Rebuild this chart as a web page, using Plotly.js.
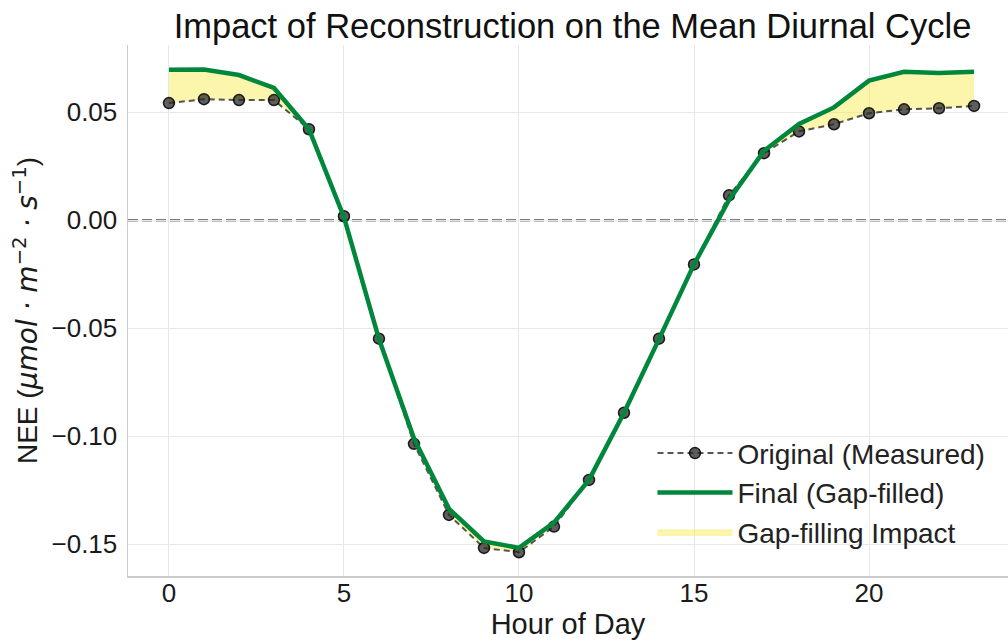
<!DOCTYPE html>
<html>
<head>
<meta charset="utf-8">
<script src="https://cdn.plot.ly/plotly-3.0.1.min.js"></script>
<style>html,body{margin:0;padding:0;background:#fff;}#chart{width:1008px;height:642px;}</style>
</head>
<body>
<div id="chart"></div>
<script>
const hours = [0,1,2,3,4,5,6,7,8,9,10,11,12,13,14,15,16,17,18,19,20,21,22,23];
const originalNEE = [0.0543,0.0561,0.0557,0.0557,0.0422,0.0019,-0.0548,-0.1035,-0.1364,-0.1517,-0.1537,-0.1418,-0.1202,-0.0891,-0.0548,-0.0204,0.0116,0.0311,0.0412,0.0445,0.0496,0.0514,0.0519,0.0530];
const finalNEE = [0.0697,0.0698,0.0673,0.0613,0.0422,0.0015,-0.0550,-0.1010,-0.1336,-0.1487,-0.1517,-0.1400,-0.1202,-0.0891,-0.0550,-0.0204,0.0095,0.0322,0.0446,0.0523,0.0647,0.0688,0.0682,0.0688];
const seriesNames = ["Original (Measured)", "Final (Gap-filled)", "Gap-filling Impact"];
const titleText = "Impact of Reconstruction on the Mean Diurnal Cycle";
const xTitle = "Hour of Day";
const mathStyle = "font-family:'DejaVu Sans';font-style:italic";
const yTitle = "NEE (<span style=\"" + mathStyle + "\">μmol · m</span><sup><span style=\"font-family:'DejaVu Sans'\">−2</span></sup><span style=\"" + mathStyle + "\"> · s</span><sup><span style=\"font-family:'DejaVu Sans'\">−1</span></sup>)";

const font = "Liberation Sans, Arial, sans-serif";
const traces = [
  {x: hours, y: originalNEE, mode: "lines", line: {width: 0, color: "rgba(0,0,0,0)"}, showlegend: false, hoverinfo: "skip"},
  {x: hours, y: finalNEE, mode: "lines", fill: "tonexty", fillcolor: "rgba(248,232,70,0.45)",
   line: {width: 0.6, color: "rgba(245,225,60,0.6)"}, name: seriesNames[2], legendrank: 3},
  {x: hours, y: originalNEE, mode: "lines+markers", name: seriesNames[0], legendrank: 1,
   line: {color: "rgba(30,30,30,0.75)", width: 2, dash: "6px,4px"},
   marker: {size: 11, color: "rgba(40,40,40,0.75)", line: {color: "rgba(0,0,0,0.85)", width: 1.5}}},
  {x: hours, y: finalNEE, mode: "lines", name: seriesNames[1], legendrank: 2,
   line: {color: "#00873c", width: 4.5}}
];

const layout = {
  width: 1008, height: 642,
  margin: {l: 128, r: 0, t: 45, b: 66},
  paper_bgcolor: "#fff", plot_bgcolor: "#fff",
  font: {family: font, color: "#1a1a1a", size: 26},
  title: {text: titleText, font: {size: 34.5, family: font, color: "#111"}, x: 0.568, xanchor: "center", y: 0.96, yanchor: "middle"},
  xaxis: {
    range: [-1.17, 23.97], tickvals: [0,5,10,15,20], ticktext: ["0","5","10","15","20"],
    showgrid: true, gridcolor: "#e8e8e8", gridwidth: 1, zeroline: false,
    showline: true, linecolor: "#cccccc", linewidth: 1.5, mirror: false,
    ticks: "", tickfont: {size: 26}, ticklabelstandoff: -7,
    title: {text: xTitle, font: {size: 29}, standoff: 6}
  },
  yaxis: {
    range: [-0.1647, 0.0812], tickvals: [-0.15,-0.10,-0.05,0,0.05], ticktext: ["−0.15","−0.10","−0.05","0.00","0.05"],
    showgrid: true, gridcolor: "#e8e8e8", gridwidth: 1, zeroline: false,
    showline: true, linecolor: "#cccccc", linewidth: 1.5,
    ticks: "", tickfont: {size: 26}, ticklabelstandoff: 4,
    title: {text: yTitle, font: {size: 28}, standoff: 5}
  },
  shapes: [{type: "line", xref: "paper", x0: 0, x1: 1, yref: "y", y0: 0, y1: 0,
    line: {color: "#7a7a7a", width: 2.5, dash: "10px,4px"}, layer: "below"}],
  legend: {x: 0.596, xanchor: "left", y: 0.278, yanchor: "top", bgcolor: "rgba(255,255,255,0)",
    font: {size: 28, color: "#222"}, traceorder: "normal", itemwidth: 75, tracegroupgap: 0}
};
Plotly.newPlot("chart", traces, layout, {displayModeBar: false, staticPlot: true});
</script>
</body>
</html>
